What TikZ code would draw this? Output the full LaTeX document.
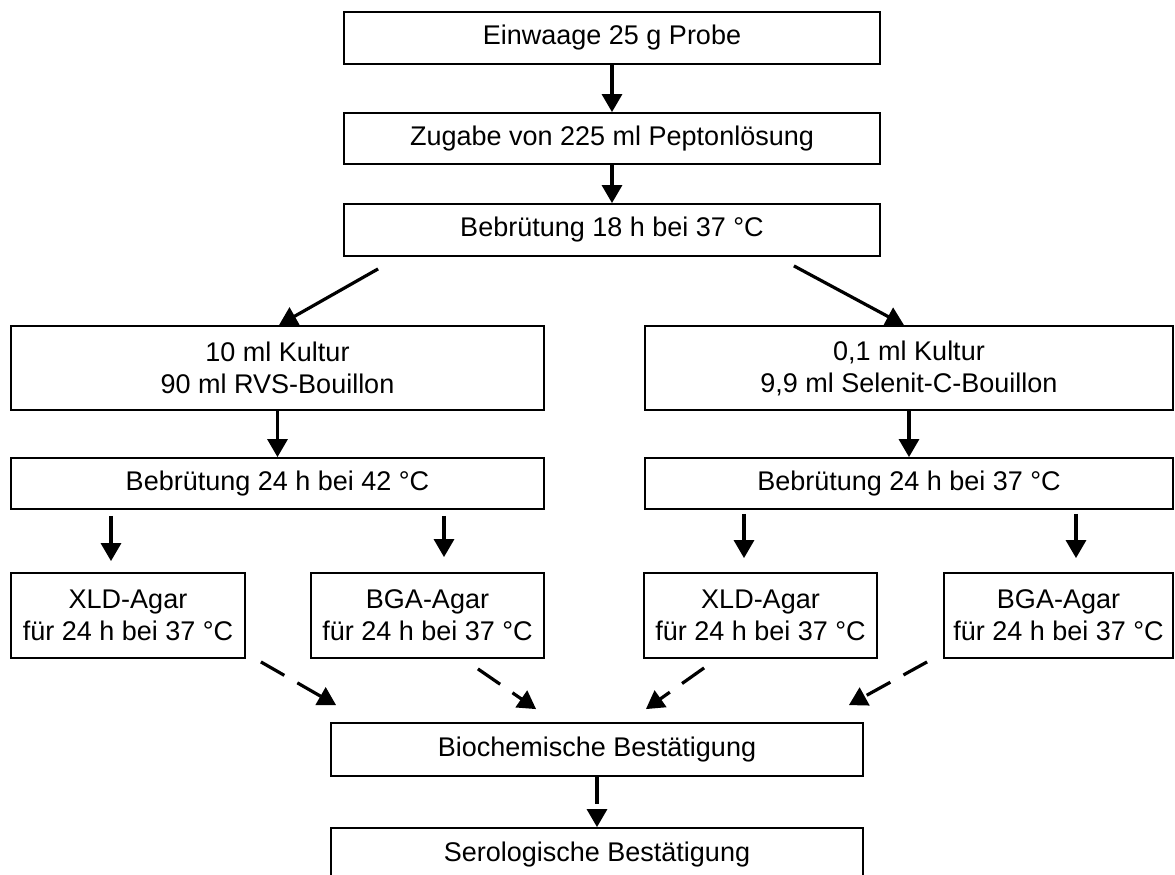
\documentclass[tikz,border=0pt]{standalone}
\usepackage{fontspec}
\setmainfont{Liberation Sans}
\usetikzlibrary{arrows.meta}

\begin{document}
\begin{tikzpicture}[x=1pt, y=-1pt,
  box/.style={draw, line width=1.8pt, inner sep=0pt, align=center, font=\fontsize{27}{32}\selectfont},
  arr/.style={line width=3.2pt, -{Triangle[length=18pt,width=20pt]}},
  darr/.style={arr, dash pattern=on 27pt off 15pt}]
\useasboundingbox (0,0) rectangle (1175,875);
\node[box, minimum width=536pt, minimum height=52pt] (weigh) at (612,38) {Einwaage 25 g Probe};
\node[box, minimum width=536pt, minimum height=51pt] (pep) at (612,138.5) {Zugabe von 225 ml Peptonlösung};
\node[box, minimum width=536pt, minimum height=52pt] (inc18) at (612,230) {Bebrütung 18 h bei 37 °C};
\node[box, minimum width=533pt, minimum height=84pt] (kultL) at (277.5,368) {10 ml Kultur\\90 ml RVS-Bouillon};
\node[box, minimum width=528pt, minimum height=84pt] (kultR) at (909,368) {0,1 ml Kultur\\9,9 ml Selenit-C-Bouillon};
\node[box, minimum width=533pt, minimum height=51pt] (incL) at (277.5,483.5) {Bebrütung 24 h bei 42 °C};
\node[box, minimum width=528pt, minimum height=51pt] (incR) at (909,483.5) {Bebrütung 24 h bei 37 °C};
\node[box, minimum width=234pt, minimum height=85pt] (xldL) at (128,615.5) {XLD-Agar\\für 24 h bei 37 °C};
\node[box, minimum width=233pt, minimum height=85pt] (bgaL) at (427.5,615.5) {BGA-Agar\\für 24 h bei 37 °C};
\node[box, minimum width=233pt, minimum height=85pt] (xldR) at (760.5,615.5) {XLD-Agar\\für 24 h bei 37 °C};
\node[box, minimum width=229pt, minimum height=85pt] (bgaR) at (1058.5,615.5) {BGA-Agar\\für 24 h bei 37 °C};
\node[box, minimum width=532pt, minimum height=53pt] (bio) at (597,749.5) {Biochemische Bestätigung};
\node[box, minimum width=532pt, minimum height=53pt] (sero) at (597,854.5) {Serologische Bestätigung};
\draw[arr] (weigh) -- (pep);
\draw[arr] (pep) -- (inc18);
\draw[arr] ([xshift=35pt,yshift=-12pt]inc18.south west) -- ([xshift=1.5pt]kultL.north);
\draw[arr] ([xshift=-87pt,yshift=-9pt]inc18.south east) -- ([xshift=-5pt]kultR.north);
\draw[arr] (kultL) -- (incL);
\draw[arr] (kultR) -- (incR);
\draw[arr] ([xshift=-166.5pt,yshift=-6pt]incL.south) -- ([xshift=-17pt,yshift=11pt]xldL.north);
\draw[arr] ([xshift=166.5pt,yshift=-6pt]incL.south) -- ([xshift=16.5pt,yshift=15pt]bgaL.north);
\draw[arr] ([xshift=-165pt,yshift=-4pt]incR.south) -- ([xshift=-16.5pt,yshift=14pt]xldR.north);
\draw[arr] ([xshift=167pt,yshift=-4pt]incR.south) -- ([xshift=17.5pt,yshift=14pt]bgaR.north);
\draw[darr] ([xshift=15pt,yshift=-3pt]xldL.south east) -- ([xshift=6pt,yshift=17pt]bio.north west);
\draw[darr] ([xshift=-67pt,yshift=-10pt]bgaL.south east) -- ([xshift=206pt,yshift=13pt]bio.north west);
\draw[darr] ([xshift=61pt,yshift=-9pt]xldR.south west) -- ([xshift=-218pt,yshift=13pt]bio.north east);
\draw[darr] ([xshift=-16pt,yshift=-3pt]bgaR.south west) -- ([xshift=-15pt,yshift=17pt]bio.north east);
\draw[darr] (bio) -- (sero);
\end{tikzpicture}
\end{document}
